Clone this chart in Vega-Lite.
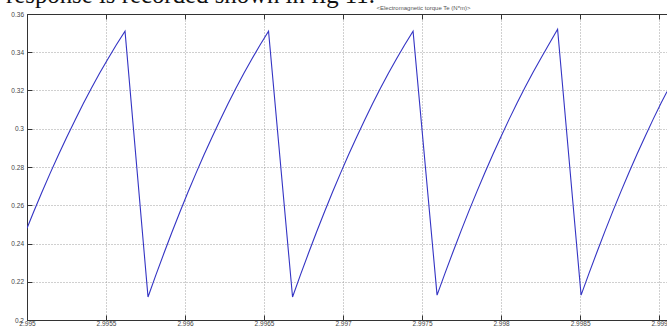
{
  "$schema": "https://vega.github.io/schema/vega-lite/v6.json",
  "width": 640,
  "height": 306,
  "autosize": {"type": "none"},
  "padding": {"left": 27, "top": 14, "right": 0, "bottom": 13},
  "background": "white",
  "title": {
    "text": "response is recorded shown in fig 11.",
    "anchor": "start",
    "frame": "group",
    "font": "Liberation Serif",
    "fontSize": 24.8,
    "fontWeight": "normal",
    "color": "#111111",
    "baseline": "alphabetic",
    "offset": -24,
    "dx": -21
  },
  "config": {
    "view": {"stroke": "#333333", "strokeWidth": 1},
    "axis": {
      "labelFont": "Liberation Sans",
      "labelFontSize": 6.5,
      "labelColor": "#444444",
      "domainColor": "#333333",
      "tickColor": "#333333",
      "gridColor": "#a0a0a0",
      "gridDash": [1, 2],
      "gridOpacity": 1,
      "gridWidth": 1
    }
  },
  "data": {
    "values": [
      {"t": 2.9950000, "v": 0.248},
      {"t": 2.9950424, "v": 0.2566},
      {"t": 2.9950949, "v": 0.2669},
      {"t": 2.9951468, "v": 0.2768},
      {"t": 2.9951994, "v": 0.2864},
      {"t": 2.9952513, "v": 0.2956},
      {"t": 2.9953038, "v": 0.3045},
      {"t": 2.9953557, "v": 0.3131},
      {"t": 2.9954082, "v": 0.3213},
      {"t": 2.9954601, "v": 0.3291},
      {"t": 2.9955127, "v": 0.3366},
      {"t": 2.9955646, "v": 0.3438},
      {"t": 2.9956203, "v": 0.351},
      {"t": 2.9957658, "v": 0.212},
      {"t": 2.9958164, "v": 0.2237},
      {"t": 2.9958671, "v": 0.2350},
      {"t": 2.9959177, "v": 0.2460},
      {"t": 2.9959683, "v": 0.2566},
      {"t": 2.9960190, "v": 0.2669},
      {"t": 2.9960696, "v": 0.2768},
      {"t": 2.9961202, "v": 0.2864},
      {"t": 2.9961709, "v": 0.2956},
      {"t": 2.9962215, "v": 0.3045},
      {"t": 2.9962721, "v": 0.3131},
      {"t": 2.9963228, "v": 0.3213},
      {"t": 2.9963734, "v": 0.3291},
      {"t": 2.9964240, "v": 0.3366},
      {"t": 2.9964747, "v": 0.3438},
      {"t": 2.9965285, "v": 0.351},
      {"t": 2.9966804, "v": 0.212},
      {"t": 2.9967310, "v": 0.2237},
      {"t": 2.9967817, "v": 0.2350},
      {"t": 2.9968323, "v": 0.2460},
      {"t": 2.9968829, "v": 0.2566},
      {"t": 2.9969336, "v": 0.2669},
      {"t": 2.9969842, "v": 0.2768},
      {"t": 2.9970348, "v": 0.2864},
      {"t": 2.9970855, "v": 0.2956},
      {"t": 2.9971361, "v": 0.3045},
      {"t": 2.9971867, "v": 0.3131},
      {"t": 2.9972374, "v": 0.3213},
      {"t": 2.9972880, "v": 0.3291},
      {"t": 2.9973386, "v": 0.3366},
      {"t": 2.9973893, "v": 0.3438},
      {"t": 2.9974431, "v": 0.351},
      {"t": 2.9975949, "v": 0.213},
      {"t": 2.9976455, "v": 0.2245},
      {"t": 2.9976962, "v": 0.2357},
      {"t": 2.9977468, "v": 0.2466},
      {"t": 2.9977974, "v": 0.2572},
      {"t": 2.9978481, "v": 0.2674},
      {"t": 2.9978987, "v": 0.2773},
      {"t": 2.9979493, "v": 0.2868},
      {"t": 2.9980000, "v": 0.2960},
      {"t": 2.9980506, "v": 0.3049},
      {"t": 2.9981012, "v": 0.3135},
      {"t": 2.9981519, "v": 0.3217},
      {"t": 2.9982025, "v": 0.3295},
      {"t": 2.9982531, "v": 0.3370},
      {"t": 2.9983038, "v": 0.3443},
      {"t": 2.9983576, "v": 0.352},
      {"t": 2.9985063, "v": 0.213},
      {"t": 2.9985569, "v": 0.2245},
      {"t": 2.9986076, "v": 0.2357},
      {"t": 2.9986582, "v": 0.2466},
      {"t": 2.9987088, "v": 0.2572},
      {"t": 2.9987595, "v": 0.2674},
      {"t": 2.9988101, "v": 0.2773},
      {"t": 2.9988607, "v": 0.2868},
      {"t": 2.9989114, "v": 0.2960},
      {"t": 2.9989620, "v": 0.3049},
      {"t": 2.9990126, "v": 0.3135},
      {"t": 2.9990506, "v": 0.3195}
    ]
  },
  "encoding": {
    "y": {
      "field": "v",
      "type": "quantitative",
      "scale": {"domain": [0.2, 0.36], "nice": false, "zero": false},
      "axis": {
        "title": null,
        "values": [0.2, 0.22, 0.24, 0.26, 0.28, 0.3, 0.32, 0.34, 0.36],
        "format": ".2~f",
        "tickSize": -5,
        "labelPadding": 8.5,
        "labelFlush": false
      }
    }
  },
  "layer": [
    {
      "mark": {"type": "line", "color": "#3434c4", "strokeWidth": 1.1, "clip": true},
      "encoding": {
        "x": {
          "field": "t",
          "type": "quantitative",
          "scale": {"domain": [2.995, 2.99905], "nice": false, "zero": false},
          "axis": {
            "title": null,
            "values": [2.995, 2.9955, 2.996, 2.9965, 2.997, 2.9975, 2.998, 2.9985, 2.999],
            "format": ".5~f",
            "tickSize": -5,
            "labelPadding": 5.5,
            "labelBaseline": "top",
            "labelFlush": false
          }
        }
      }
    },
    {
      "mark": {"type": "line", "opacity": 0},
      "encoding": {
        "x": {
          "field": "t",
          "type": "quantitative",
          "axis": {
            "orient": "top",
            "labels": false,
            "grid": false,
            "domain": true,
            "tickSize": -5,
            "values": [2.995, 2.9955, 2.996, 2.9965, 2.997, 2.9975, 2.998, 2.9985, 2.999],
            "title": "<Electromagnetic torque Te (N*m)>",
            "titleFont": "Liberation Sans",
            "titleFontSize": 6,
            "titleFontWeight": "normal",
            "titleColor": "#555555",
            "titleAnchor": null,
            "titleAlign": "center",
            "titleBaseline": "middle",
            "titleX": 396,
            "titleY": -7
          }
        }
      }
    }
  ],
  "resolve": {"axis": {"x": "independent"}}
}
